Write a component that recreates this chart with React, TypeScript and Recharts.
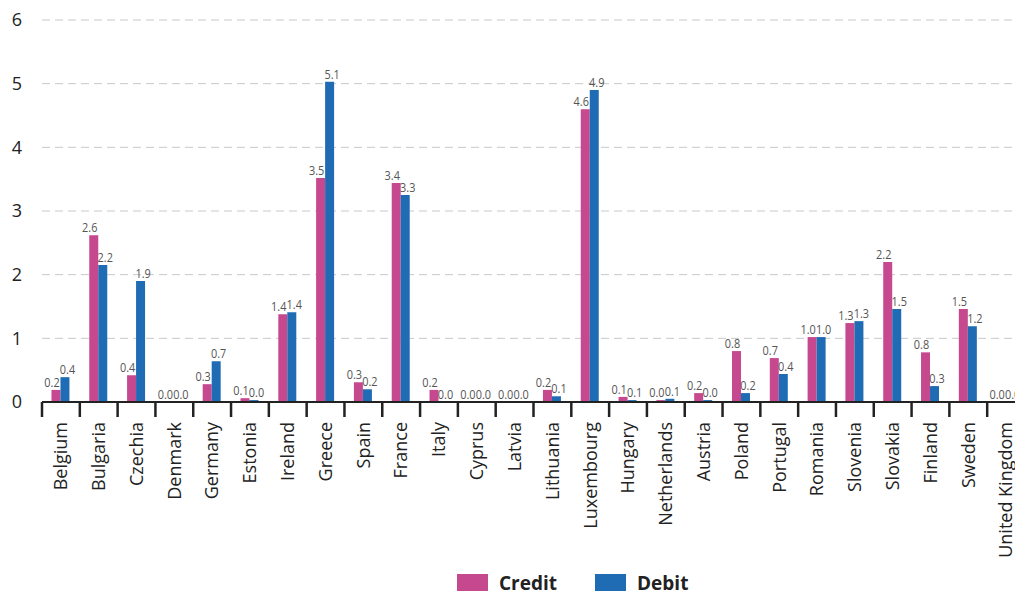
import { BarChart, Bar, XAxis, YAxis, CartesianGrid, Legend, LabelList } from 'recharts';

const countries = [
  'Belgium', 'Bulgaria', 'Czechia', 'Denmark', 'Germany', 'Estonia', 'Ireland', 'Greece', 'Spain',
  'France', 'Italy', 'Cyprus', 'Latvia', 'Lithuania', 'Luxembourg', 'Hungary', 'Netherlands',
  'Austria', 'Poland', 'Portugal', 'Romania', 'Slovenia', 'Slovakia', 'Finland', 'Sweden',
  'United Kingdom',
];

const credit = [
  0.19, 2.62, 0.42, 0.0, 0.28, 0.06, 1.38, 3.52, 0.31, 3.44, 0.19, 0.0, 0.0, 0.19, 4.6, 0.08, 0.03,
  0.14, 0.8, 0.69, 1.02, 1.24, 2.2, 0.78, 1.46, 0.0,
];
const debit = [
  0.39, 2.15, 1.9, 0.0, 0.64, 0.03, 1.41, 5.03, 0.2, 3.25, 0.0, 0.0, 0.0, 0.09, 4.9, 0.03, 0.05,
  0.03, 0.14, 0.44, 1.02, 1.27, 1.46, 0.25, 1.19, 0.0,
];

const creditLabels = [
  '0.2', '2.6', '0.4', '0.0', '0.3', '0.1', '1.4', '3.5', '0.3', '3.4', '0.2', '0.0', '0.0', '0.2',
  '4.6', '0.1', '0.0', '0.2', '0.8', '0.7', '1.0', '1.3', '2.2', '0.8', '1.5', '0.0',
];
const debitLabels = [
  '0.4', '2.2', '1.9', '0.0', '0.7', '0.0', '1.4', '5.1', '0.2', '3.3', '0.0', '0.0', '0.0', '0.1',
  '4.9', '0.1', '0.1', '0.0', '0.2', '0.4', '1.0', '1.3', '1.5', '0.3', '1.2', '0.0',
];

const yTicks = [0, 1, 2, 3, 4, 5, 6];

const CREDIT_COLOR = '#c6498f';
const DEBIT_COLOR = '#1f6cb4';

const data = countries.map((name, i) => ({
  name,
  credit: credit[i],
  debit: debit[i],
  creditLabel: creditLabels[i],
  debitLabel: debitLabels[i],
}));

function CountryTick(props: any) {
  const { x, y, payload } = props;
  const half = payload?.offset ?? 0;
  return (
    <g>
      <line x1={x - half} x2={x - half} y1={y} y2={y + 15} stroke="#222" strokeWidth={2.5} />
      <text
        x={x}
        y={y + 20}
        transform={`rotate(-90, ${x}, ${y + 20})`}
        textAnchor="end"
        dy="0.35em"
        fontFamily="'Open Sans', sans-serif"
        fontSize={18}
        fill="#222"
      >
        {payload.value}
      </text>
    </g>
  );
}

// narrow value labels above the bars; credit ones lean left, debit ones right
function makeBarValue(shift: number) {
  return function BarValue(props: any) {
    const { x, y, width, value } = props;
    const cx = Number(x) + Number(width) / 2 + shift;
    return (
      <text
        transform={`translate(${cx}, ${Number(y) - 3}) scale(0.84, 1)`}
        textAnchor="middle"
        fontFamily="'Open Sans', sans-serif"
        fontSize={13}
        fill="#555"
      >
        {value}
      </text>
    );
  };
}
const CreditValue = makeBarValue(-4);
const DebitValue = makeBarValue(2.5);

function LegendBox() {
  const item = (color: string, label: string) => (
    <div style={{ display: 'flex', alignItems: 'center', marginRight: 38 }}>
      <div style={{ width: 31, height: 18, background: color, marginRight: 11 }} />
      <span style={{ fontFamily: "'Open Sans', sans-serif", fontWeight: 700, fontSize: 19, color: '#222' }}>
        {label}
      </span>
    </div>
  );
  return (
    <div style={{ display: 'flex', height: 24, alignItems: 'center', paddingLeft: 449 }}>
      {item(CREDIT_COLOR, 'Credit')}
      {item(DEBIT_COLOR, 'Debit')}
    </div>
  );
}

export default function App() {
  return (
    <div style={{ width: 1007, height: 583, overflow: 'hidden' }}>
      <BarChart
        width={1020}
        height={590}
        data={data}
        margin={{ top: 12, right: 3, bottom: 3, left: 0 }}
        barCategoryGap="25%"
        barGap={0}
      >
        <CartesianGrid vertical={false} stroke="#c8c8c8" strokeDasharray="8 5" />
        <YAxis
          domain={[0, 6]}
          ticks={yTicks}
          width={34}
          axisLine={false}
          tickLine={false}
          tickSize={0}
          tickMargin={20}
          tick={{ fontFamily: "'Open Sans', sans-serif", fontSize: 18, fill: '#222' }}
        />
        <XAxis
          dataKey="name"
          interval={0}
          height={169}
          axisLine={{ stroke: '#222', strokeWidth: 2 }}
          tickLine={false}
          tickSize={0}
          tickMargin={0}
          tick={<CountryTick />}
        />
        <Legend verticalAlign="bottom" content={<LegendBox />} />
        <Bar dataKey="credit" fill={CREDIT_COLOR} minPointSize={0.5} isAnimationActive={false}>
          <LabelList dataKey="creditLabel" content={<CreditValue />} />
        </Bar>
        <Bar dataKey="debit" fill={DEBIT_COLOR} minPointSize={0.5} isAnimationActive={false}>
          <LabelList dataKey="debitLabel" content={<DebitValue />} />
        </Bar>
      </BarChart>
    </div>
  );
}
